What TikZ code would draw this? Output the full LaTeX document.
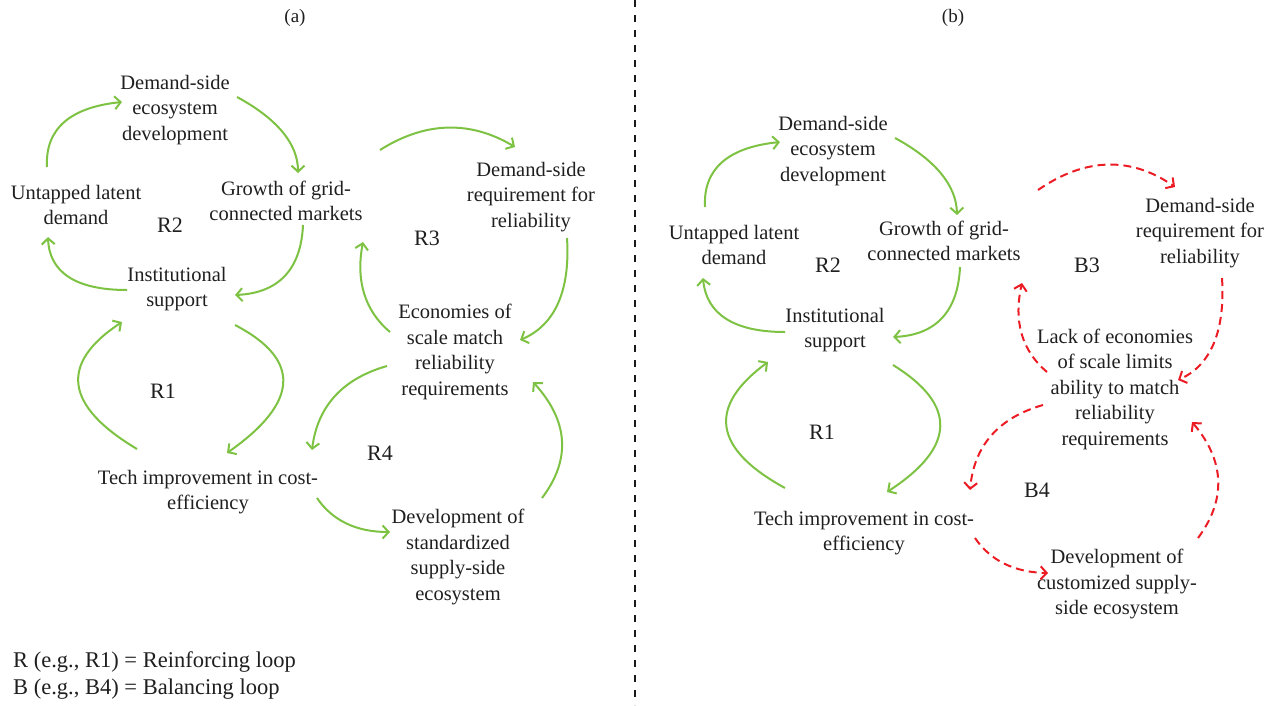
\documentclass[tikz,border=0pt]{standalone}
\usepackage{fontspec}
\setmainfont{Liberation Serif}
\usetikzlibrary{arrows.meta,calc}
\definecolor{lgreen}{RGB}{125,194,66}
\definecolor{lred}{RGB}{236,28,36}
% quadratic arc: #1 style, #2 start, #3 control, #4 end
\newcommand{\qarc}[4]{%
  \draw[#1] let \p1=#2, \p2=#3, \p3=#4 in
    (\p1) .. controls ($(\p1)!0.6667!(\p2)$) and ($(\p3)!0.6667!(\p2)$) .. (\p3);}
\begin{document}
\begin{tikzpicture}[x=1pt,y=-1pt,
 txt/.style={align=center,inner sep=0pt,font=\fontsize{20.5}{25.5}\selectfont,text=black!88},
 lbl/.style={inner sep=0pt,font=\fontsize{22}{26}\selectfont,text=black!88},
 hdr/.style={inner sep=0pt,font=\fontsize{19}{22}\selectfont,text=black!88},
 leg/.style={inner sep=0pt,anchor=west,font=\fontsize{22.5}{27}\selectfont,text=black!88},
 garrow/.style={draw=lgreen,line width=2pt,-{Straight Barb[length=6pt,width=13pt,line width=2pt]}},
 rarrow/.style={draw=lred,line width=2pt,dash pattern=on 8pt off 5pt,-{Straight Barb[length=6pt,width=13pt,line width=2pt]}},
 divider/.style={draw=black!90,line width=1.8pt,dash pattern=on 7pt off 8pt}
]
\useasboundingbox (0,0) rectangle (1276,705);

% headers and divider
\node[hdr] (ha) at (295,18) {(a)};
\node[hdr] (hb) at (953,18) {(b)};
\coordinate (dtop) at (635,0);
\coordinate (dbot) at (635,705);
\draw[divider] (dtop) -- (dbot);

% ---------------- panel (a) ----------------
\node[txt] (aDSE) at (175,110) {Demand-side\\ecosystem\\development};
\node[txt] (aUD) at (76,205) {Untapped latent\\demand};
\node[txt] (aGGM) at (286,201) {Growth of grid-\\connected markets};
\node[txt] (aIS) at (177,289) {Institutional\\support};
\node[txt] (aDSR) at (531,197) {Demand-side\\requirement for\\reliability};
\node[txt] (aES) at (455,352) {Economies of\\scale match\\reliability\\requirements};
\node[txt] (aTech) at (208,492) {Tech improvement in cost-\\efficiency};
\node[txt] (aDev) at (458,557) {Development of\\standardized\\supply-side\\ecosystem};

\node[lbl] (aR2) at (170,225) {R2};
\node[lbl] (aR3) at (427,238) {R3};
\node[lbl] (aR1) at (163,391) {R1};
\node[lbl] (aR4) at (380,453) {R4};

\qarc{garrow}{($(aUD)+(-29,-38)$)}{(44,110)}{($(aDSE)+(-53,-8)$)}
\qarc{garrow}{($(aDSE)+(62,-13)$)}{(298,130)}{($(aGGM)+(12,-28)$)}
\qarc{garrow}{($(aGGM)+(17,24)$)}{(300,292)}{($(aIS)+(58,6)$)}
\qarc{garrow}{($(aIS)+(-50,1)$)}{(50,290)}{($(aUD)+(-28,32)$)}
\qarc{garrow}{($(aTech)+(-71,-43)$)}{(28,384)}{($(aIS)+(-55,33)$)}
\qarc{garrow}{($(aIS)+(58,36)$)}{(335,377)}{($(aTech)+(19,-39)$)}
\qarc{garrow}{($(aGGM)+(94,-51)$)}{(448,107)}{($(aDSR)+(-16,-50)$)}
\qarc{garrow}{($(aDSR)+(36,41)$)}{(572,318)}{($(aES)+(65,-12)$)}
\qarc{garrow}{($(aES)+(-65,-20)$)}{(352,300)}{($(aGGM)+(77,41)$)}
\qarc{garrow}{($(aES)+(-68,14)$)}{(320,385)}{($(aTech)+(104,-42)$)}
\qarc{garrow}{($(aTech)+(109,6)$)}{(340,532)}{($(aDev)+(-68,-25)$)}
\qarc{garrow}{($(aDev)+(84,-59)$)}{(586,440)}{($(aES)+(78,30)$)}

% legend
\node[leg] (legR) at (13,662) {R (e.g., R1) = Reinforcing loop};
\node[leg] (legB) at (13,689) {B (e.g., B4) = Balancing loop};

% ---------------- panel (b) ----------------
\node[txt] (bDSE) at (833,151) {Demand-side\\ecosystem\\development};
\node[txt] (bUD) at (734,245) {Untapped latent\\demand};
\node[txt] (bGGM) at (944,241) {Growth of grid-\\connected markets};
\node[txt] (bIS) at (835,330) {Institutional\\support};
\node[txt] (bDSR) at (1200,233) {Demand-side\\requirement for\\reliability};
\node[txt] (bLack) at (1115,389) {Lack of economies\\of scale limits\\ability to match\\reliability\\requirements};
\node[txt] (bTech) at (864,533) {Tech improvement in cost-\\efficiency};
\node[txt] (bDev) at (1117,584) {Development of\\customized supply-\\side ecosystem};

\node[lbl] (bR2) at (828,265) {R2};
\node[lbl] (bB3) at (1087,265) {B3};
\node[lbl] (bR1) at (822,432) {R1};
\node[lbl] (bB4) at (1037,490) {B4};

\qarc{garrow}{($(bUD)+(-29,-38)$)}{(702,150)}{($(bDSE)+(-53,-9)$)}
\qarc{garrow}{($(bDSE)+(62,-13)$)}{(956,171)}{($(bGGM)+(13,-26)$)}
\qarc{garrow}{($(bGGM)+(16,26)$)}{(957,334)}{($(bIS)+(58,7)$)}
\qarc{garrow}{($(bIS)+(-50,2)$)}{(708,332)}{($(bUD)+(-31,33)$)}
\qarc{garrow}{($(bTech)+(-79,-45)$)}{(677,429)}{($(bIS)+(-67,32)$)}
\qarc{garrow}{($(bIS)+(58,35)$)}{(990,425)}{($(bTech)+(23,-41)$)}

\qarc{rarrow}{($(bGGM)+(94,-51)$)}{(1109,141)}{($(bDSR)+(-25,-46)$)}
\qarc{rarrow}{($(bDSR)+(22,45)$)}{(1227,358)}{($(bLack)+(63,-9)$)}
\qarc{rarrow}{($(bLack)+(-68,-17)$)}{(1009,340)}{($(bGGM)+(78,42)$)}
\qarc{rarrow}{($(bLack)+(-72,16)$)}{(976,424)}{($(bTech)+(106,-43)$)}
\qarc{rarrow}{($(bTech)+(111,5)$)}{(998,572)}{($(bDev)+(-69,-11)$)}
\qarc{rarrow}{($(bDev)+(81,-46)$)}{(1241,480)}{($(bLack)+(77,33)$)}
\end{tikzpicture}
\end{document}
